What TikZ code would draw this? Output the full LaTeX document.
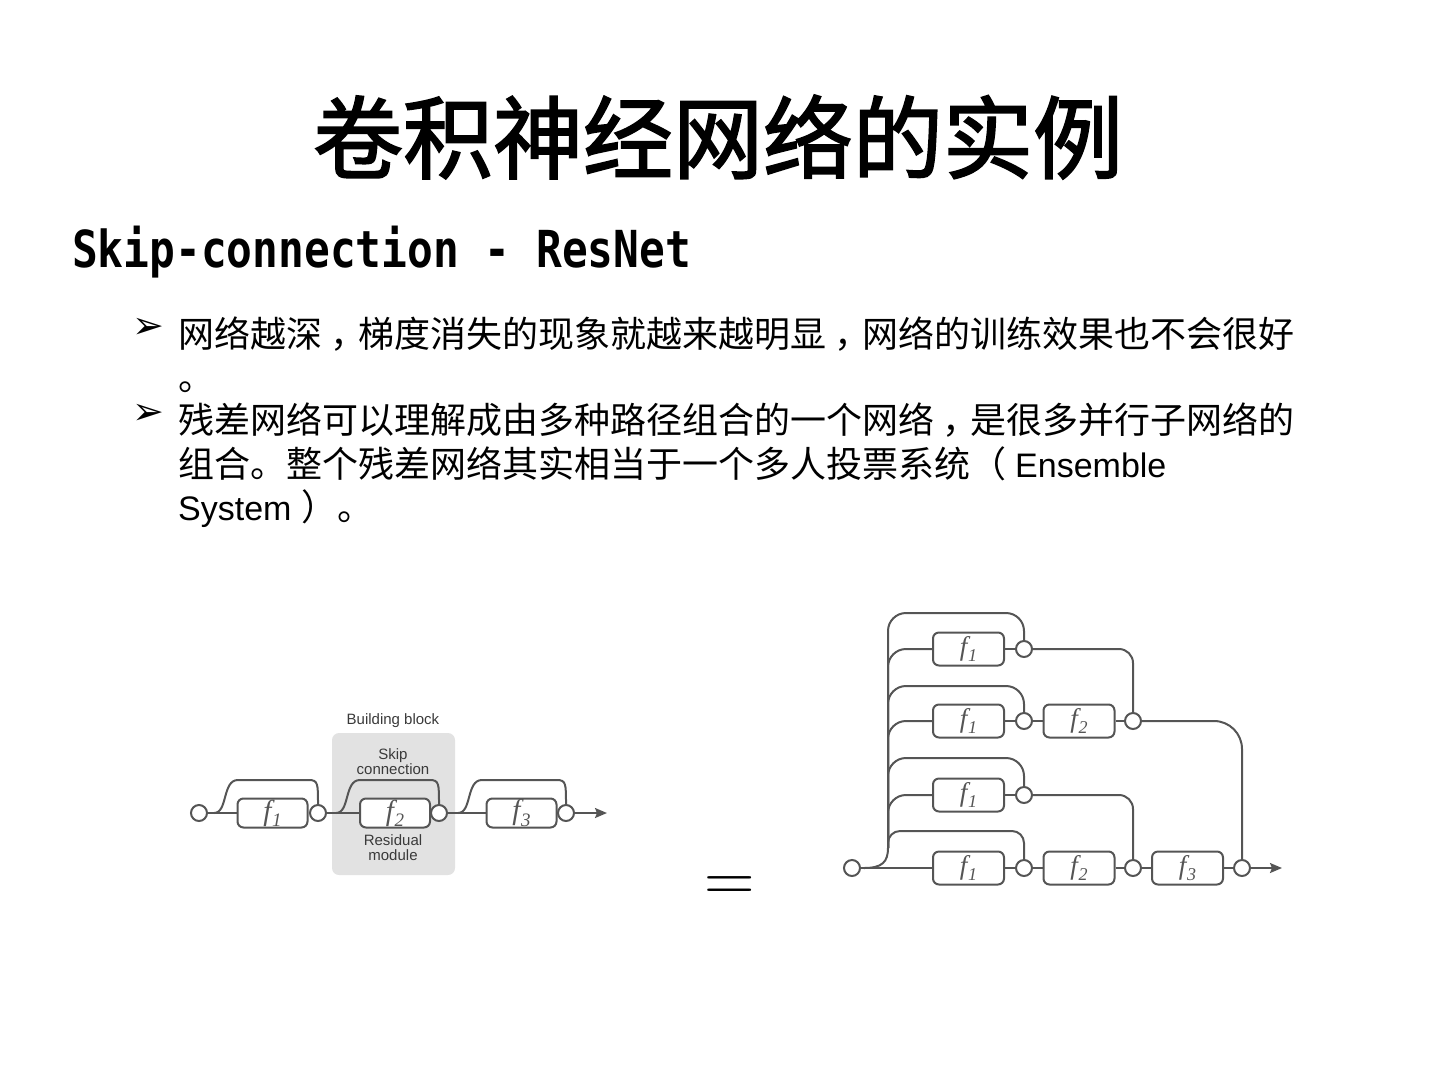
\documentclass[tikz,border=0pt]{standalone}
\usepackage{fontspec}
\newfontfamily\cjk{Noto Sans CJK SC}
\newfontfamily\cjkt[FakeBold=2]{Noto Sans CJK SC}
\newfontfamily\sansf{Liberation Sans}
\newfontfamily\serif{Liberation Serif}
\newfontfamily\monob[FakeStretch=0.84]{DejaVu Sans Mono}
\newfontfamily\dejavu{DejaVu Sans}
\usetikzlibrary{arrows.meta,calc}
\definecolor{linegray}{HTML}{555555}
\definecolor{textgray}{HTML}{3A3A3A}
\definecolor{blockgray}{HTML}{E2E2E2}
\newcommand\fsub[2]{{\serif\itshape f\kern0.02em\raisebox{-0.22em}{\fontsize{#2}{#2}\selectfont #1}}}
\newcommand\zc{\hspace{0.22em}\makebox[0.78em][l]{，}}
\begin{document}
\begin{tikzpicture}[x=1pt,y=-1pt,
  wire/.style={draw=linegray,line width=2pt},
  fbox/.style={draw=linegray,line width=2pt,fill=white,rounded corners=6pt,
    minimum width=70pt,minimum height=29pt,inner sep=0pt,text=linegray,
    font=\serif\itshape\fontsize{29}{29}\selectfont},
  fboxr/.style={fbox,minimum width=71pt,minimum height=33pt,
    font=\serif\itshape\fontsize{27}{27}\selectfont},
  junc/.style={circle,draw=linegray,line width=2pt,fill=white,minimum size=16pt,inner sep=0pt},
  lbl/.style={font=\sansf\fontsize{15}{15}\selectfont,text=textgray,align=center,inner sep=0pt},
  body/.style={anchor=base west,inner sep=0pt,font=\cjk\fontsize{36}{36}\selectfont},
  bul/.style={inner sep=0pt,font=\dejavu\fontsize{38}{38}\selectfont},
  tip/.style={-{Stealth[length=12pt,width=10pt,inset=2pt]}}]
\useasboundingbox (0,0) rectangle (1440,1080);

% title and texts
\node[inner sep=0pt,font=\cjkt\fontsize{90}{90}\selectfont] (title) at (718,137) {卷积神经网络的实例};
\node[anchor=base west,inner sep=0pt,font=\monob\bfseries\fontsize{51}{51}\selectfont] (sub) at (72,267) {Skip-connection - ResNet};
\node[bul] (b1) at (148,328) {➢};
\node[body] (l1) at (178,347) {网络越深\zc 梯度消失的现象就越来越明显\zc 网络的训练效果也不会很好};
\node[body] (l1b) at (178,390) {。};
\node[bul] (b2) at (148,414) {➢};
\node[body] (l2) at (178,433) {残差网络可以理解成由多种路径组合的一个网络\zc 是很多并行子网络的};
\node[body] (l3) at (178,477) {组合。整个残差网络其实相当于一个多人投票系统（\hspace{9pt}{\sansf\fontsize{34}{34}\selectfont Ensemble}};
\node[body] (l4) at (178,520) {{\sansf\fontsize{34}{34}\selectfont System }）。};

% left diagram
\node[fill=blockgray,rounded corners=7pt,minimum width=123pt,minimum height=142pt,inner sep=0pt] (block) at (393.5,804) {};
\node[lbl] (bb) at (393,721) {Building block};
\node[lbl] (skiplbl) at (393,762) {Skip\\connection};
\node[lbl] (reslbl) at (393,848) {Residual\\module};

\node[junc] (in0) at (199,813) {};
\node[fbox] (fa) at (272.5,813) {\fsub{1}{19}};
\node[junc] (ca) at (318,813) {};
\node[fbox] (fb) at (395,813) {\fsub{2}{19}};
\node[junc] (cb) at (439,813) {};
\node[fbox] (fc) at (521.5,813) {\fsub{3}{19}};
\node[junc] (cc) at (566,813) {};
\coordinate (outL) at (607,813);
\coordinate (sa) at (214,813);
\coordinate (sb) at (336,813);
\coordinate (sc) at (458,813);

\draw[wire] (in0) -- (fa);
\draw[wire] (fa) -- (ca);
\draw[wire] (ca) -- (fb);
\draw[wire] (fb) -- (cb);
\draw[wire] (cb) -- (fc);
\draw[wire] (fc) -- (cc);
\draw[wire,tip] (cc) -- (outL);
\draw[wire] (sa) .. controls (228,813) and (222,780) .. (238,780) -- (309,780) .. controls (318,780) and (318,784) .. (ca.north);
\draw[wire] (sb) .. controls (350,813) and (344,780) .. (360,780) -- (430,780) .. controls (439,780) and (439,784) .. (cb.north);
\draw[wire] (sc) .. controls (472,813) and (466,780) .. (482,780) -- (557,780) .. controls (566,780) and (566,784) .. (cc.north);

% equals sign
\node[anchor=base,inner sep=0pt,font=\fontsize{70}{70}\selectfont] (eq) at (730,901) {=};

% right diagram
\node[fboxr] (f11) at (968.5,649) {\fsub{1}{18}};
\node[junc] (c11) at (1024,649) {};
\node[fboxr] (f21) at (968.5,721) {\fsub{1}{18}};
\node[junc] (c21) at (1024,721) {};
\node[fboxr] (f22) at (1079,721) {\fsub{2}{18}};
\node[junc] (c22) at (1133,721) {};
\node[fboxr] (f31) at (968.5,795) {\fsub{1}{18}};
\node[junc] (c31) at (1024,795) {};
\node[junc] (in1) at (852,868) {};
\node[fboxr] (f41) at (968.5,868) {\fsub{1}{18}};
\node[junc] (c41) at (1024,868) {};
\node[fboxr] (f42) at (1079,868) {\fsub{2}{18}};
\node[junc] (c42) at (1133,868) {};
\node[fboxr] (f43) at (1187.5,868) {\fsub{3}{18}};
\node[junc] (c43) at (1242,868) {};
\coordinate (outR) at (1282,868);
\coordinate (tin) at (864,868);
\coordinate (tb) at (888,848);
\coordinate (s1) at (1024,613);
\coordinate (s2) at (1024,686);
\coordinate (s3) at (1024,758);
\coordinate (s4) at (1024,831);

\draw[wire] (in1) -- (f41);
\draw[wire] (tin) .. controls (882,868) and (888,862) .. (tb);
\draw[wire] (tb) [rounded corners=18pt] |- (f11);
\draw[wire] (tb) [rounded corners=18pt] |- (f21);
\draw[wire] (tb) [rounded corners=18pt] |- (f31);
\draw[wire] (tb) [rounded corners=18pt] |- (s1) [rounded corners=10pt] -- (c11.north);
\draw[wire] (tb) [rounded corners=18pt] |- (s2) [rounded corners=10pt] -- (c21.north);
\draw[wire] (tb) [rounded corners=18pt] |- (s3) [rounded corners=10pt] -- (c31.north);
\draw[wire] (tb) [rounded corners=12pt] |- (s4) [rounded corners=10pt] -- (c41.north);

\draw[wire] (f11) -- (c11);
\draw[wire] (f21) -- (c21);
\draw[wire] (c21) -- (f22);
\draw[wire] (f22) -- (c22);
\draw[wire] (f31) -- (c31);
\draw[wire] (f41) -- (c41);
\draw[wire] (c41) -- (f42);
\draw[wire] (f42) -- (c42);
\draw[wire] (c42) -- (f43);
\draw[wire] (f43) -- (c43);
\draw[wire,tip] (c43) -- (outR);
\draw[wire,rounded corners=14pt] (c11) -| (c22);
\draw[wire,rounded corners=28pt] (c22) -| (c43);
\draw[wire,rounded corners=14pt] (c31) -| (c42);
\end{tikzpicture}
\end{document}
